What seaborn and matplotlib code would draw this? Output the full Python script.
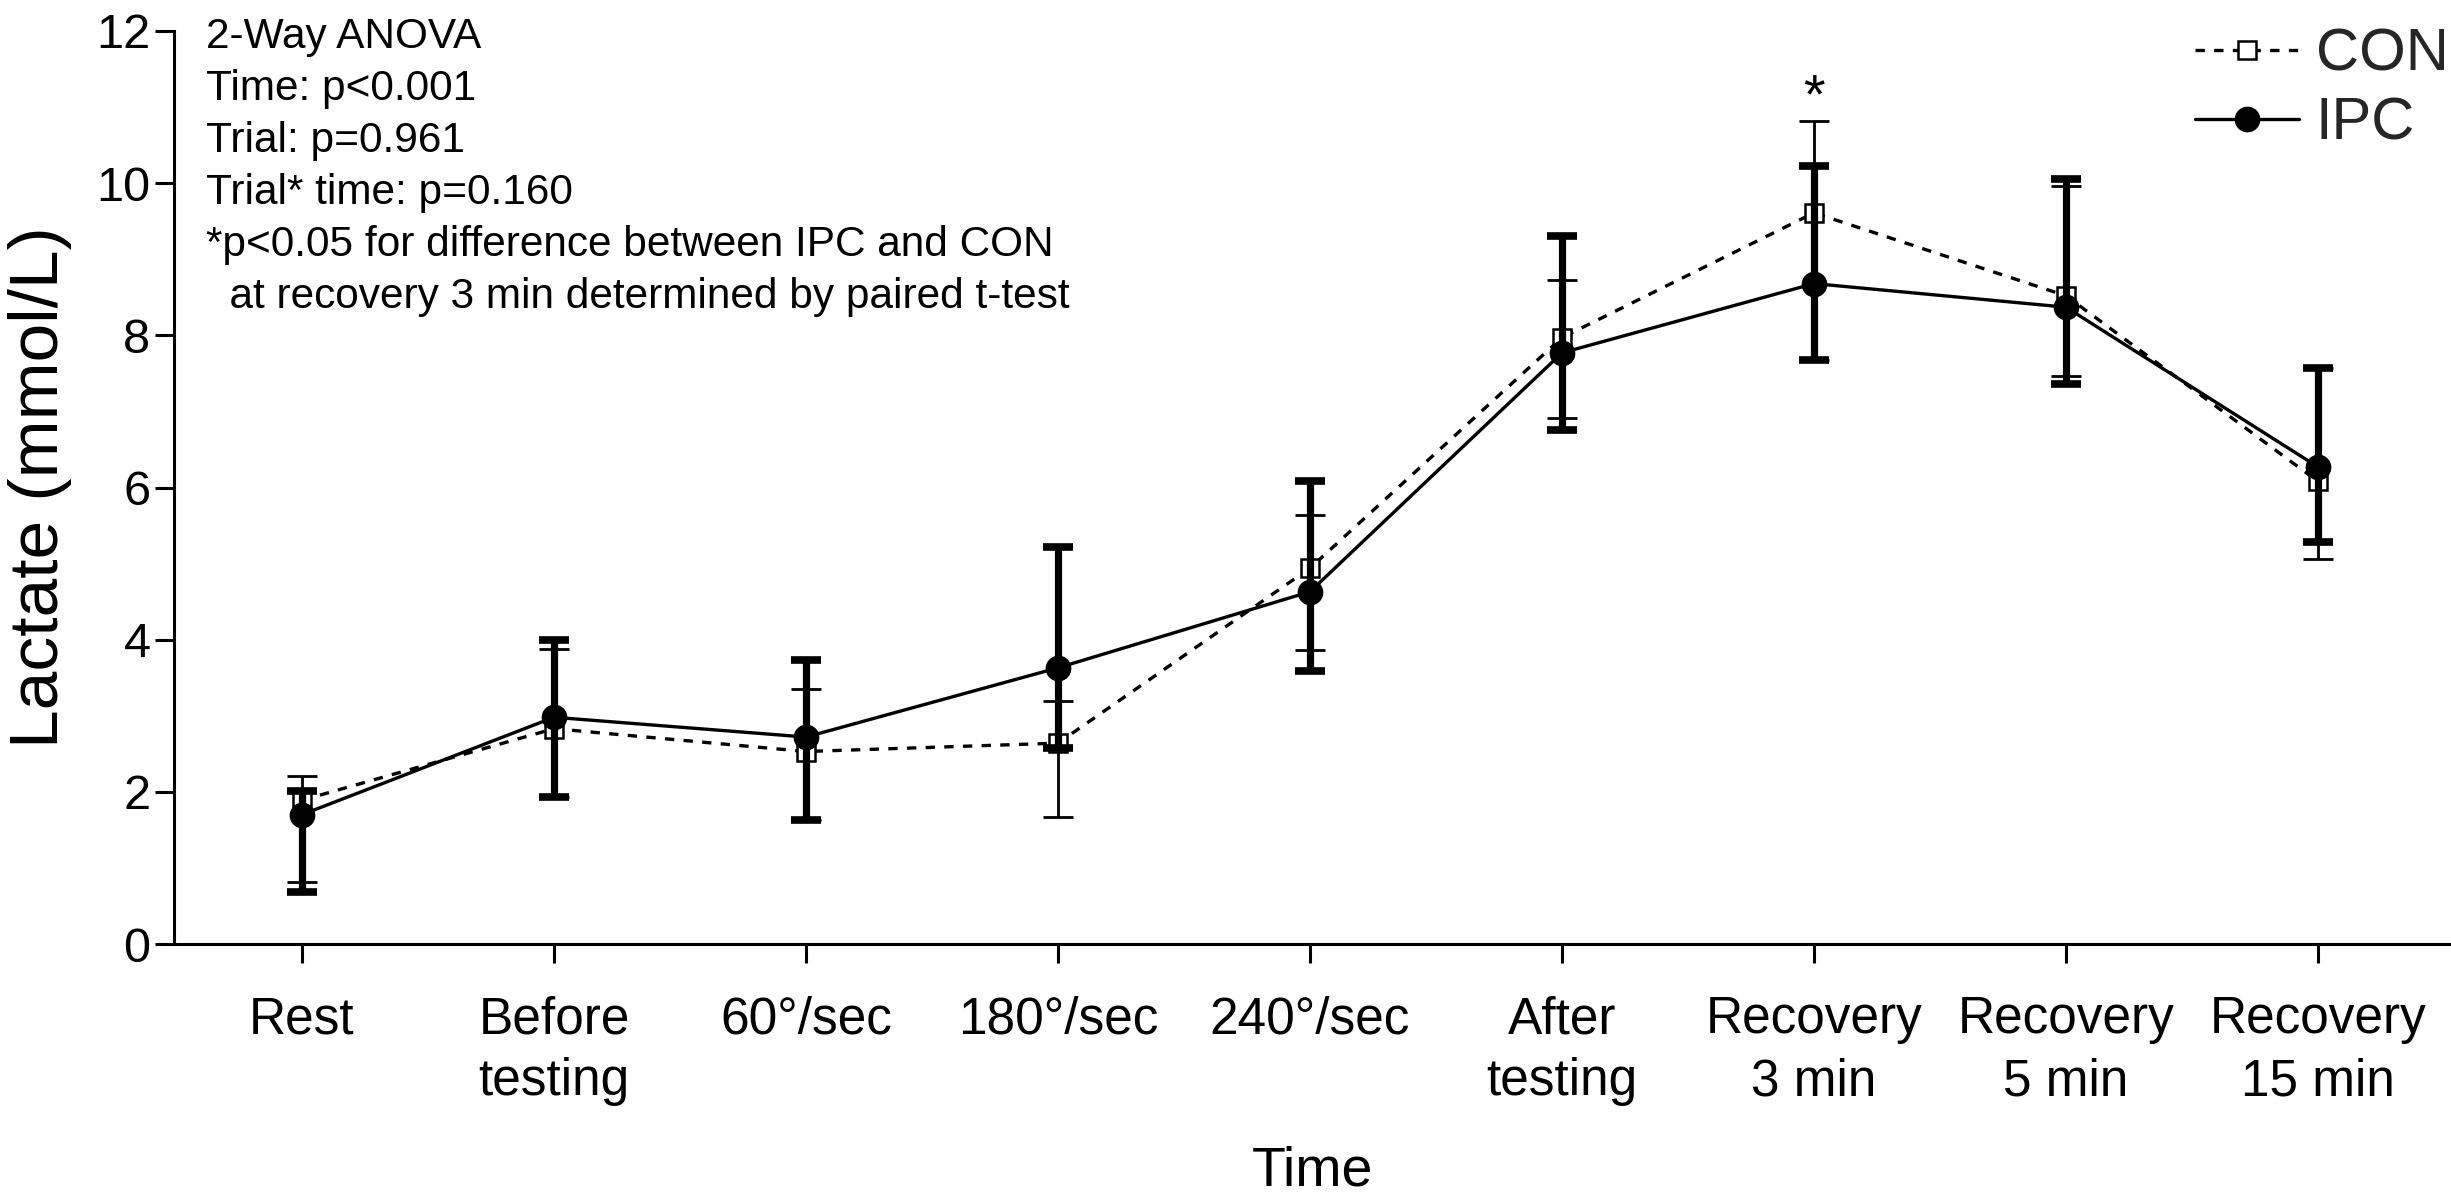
import numpy as np
import pandas as pd
import matplotlib
matplotlib.use("Agg")
import matplotlib.pyplot as plt
import seaborn as sns

# ---------------- data ----------------
categories = ["Rest", "Before\ntesting", "60°/sec", "180°/sec", "240°/sec",
              "After\ntesting", "Recovery\n3 min", "Recovery\n5 min", "Recovery\n15 min"]
con_mean = [1.89, 2.83, 2.53, 2.64, 4.94, 7.97, 9.61, 8.52, 6.08]
con_upper = [2.21, 3.88, 3.35, 3.20, 5.64, 8.73, 10.82, 9.96, 7.57]
con_lower = [0.82, 1.93, 1.63, 1.67, 3.86, 6.91, 7.67, 7.47, 5.06]
ipc_mean = [1.70, 2.98, 2.72, 3.63, 4.63, 7.77, 8.68, 8.37, 6.27]
ipc_upper = [2.01, 3.99, 3.73, 5.22, 6.08, 9.30, 10.23, 10.06, 7.57]
ipc_lower = [0.68, 1.93, 1.63, 2.57, 3.59, 6.75, 7.67, 7.36, 5.28]
y_ticks = [0, 2, 4, 6, 8, 10, 12]
annotation_lines = ["2-Way ANOVA", "Time: p<0.001", "Trial: p=0.961",
                    "Trial* time: p=0.160",
                    "*p<0.05 for difference between IPC and CON",
                    "  at recovery 3 min determined by paired t-test"]

sns.set_theme(style="ticks")
plt.rcParams['font.family'] = ['Liberation Sans', 'DejaVu Sans']

W, H = 2451, 1197
fig = plt.figure(figsize=(W / 100, H / 100), dpi=100)
ax = fig.add_axes([174 / W, 253 / H, (W - 174) / W, 913 / H])

x = np.arange(len(categories))
con_df = pd.DataFrame({"x": x, "y": con_mean})
ipc_df = pd.DataFrame({"x": x, "y": ipc_mean})

# CON (dotted, open squares)
sns.lineplot(data=con_df, x="x", y="y", ax=ax, color="black", lw=2.4,
             linestyle=(0, (2.8, 2.8)), marker="s", ms=13, mfc="white",
             mec="black", mew=1.8, label="CON", errorbar=None, zorder=3)
ax.errorbar(x, con_mean,
            yerr=[np.array(con_mean) - np.array(con_lower),
                  np.array(con_upper) - np.array(con_mean)],
            fmt="none", ecolor="black", elinewidth=2.0, capsize=11,
            capthick=2.0, zorder=2)
# IPC (solid, filled circles)
ax.errorbar(x, ipc_mean,
            yerr=[np.array(ipc_mean) - np.array(ipc_lower),
                  np.array(ipc_upper) - np.array(ipc_mean)],
            fmt="none", ecolor="black", elinewidth=5.2, capsize=11,
            capthick=5.5, zorder=4)
sns.lineplot(data=ipc_df, x="x", y="y", ax=ax, color="black", lw=2.4,
             linestyle="-", marker="o", ms=17.5, mfc="black",
             mec="black", mew=1.0, label="IPC", errorbar=None, zorder=5)

ax.text(6, 10.93, "*", ha="center", va="baseline", fontsize=40, color="black")

# axes styling
ax.set_xlim(-0.508, 8.528)
ax.set_ylim(0, 12)
ax.set_xticks(x, categories)
ax.set_yticks(y_ticks)
for lab in ax.get_xticklabels():
    lab.set_linespacing(1.34)
sns.despine(ax=ax)
for s in ["left", "bottom"]:
    ax.spines[s].set_linewidth(2.2)
    ax.spines[s].set_color("black")
ax.tick_params(axis="both", direction="out", length=14, width=2.2,
               color="black", labelcolor="black")
ax.tick_params(axis="x", pad=23, labelsize=37)
ax.tick_params(axis="y", pad=3, labelsize=35)

ax.set_xlabel("Time", fontsize=40, color="black")
ax.set_ylabel("Lactate (mmol/L)", fontsize=50, color="black")
ax.xaxis.set_label_coords(0.5, -0.221)
ax.yaxis.set_label_coords(-0.045, 0.5)

leg = ax.legend(loc="upper right", bbox_to_anchor=(1.004, 0.987),
                bbox_transform=fig.transFigure, frameon=False, fontsize=43,
                handlelength=1.75, handletextpad=0.28, labelspacing=0.24,
                borderaxespad=0.1, borderpad=0.1)

fig.text(206 / W, 1 - 17 / H, "\n".join(annotation_lines), ha="left",
         va="top", fontsize=30.5, linespacing=1.39, color="black")

fig.savefig("out.png", dpi=100, facecolor="white")
